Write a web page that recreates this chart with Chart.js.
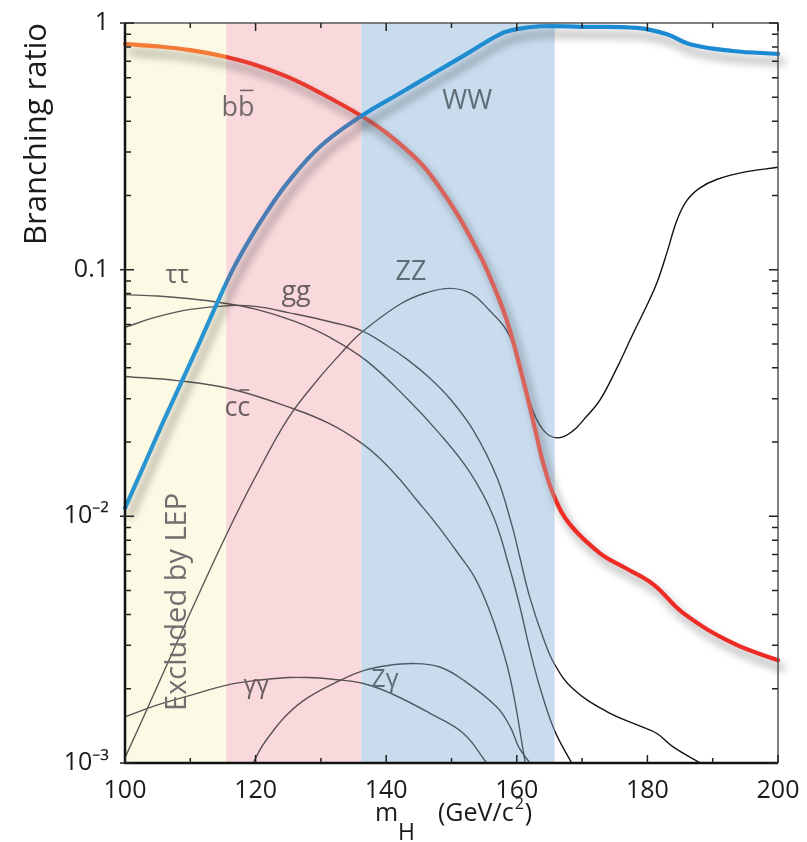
<!DOCTYPE html>
<html>
<head>
<meta charset="utf-8">
<script src="https://cdn.jsdelivr.net/npm/chart.js@4.4.1/dist/chart.umd.min.js"></script>
<style>
html, body { margin: 0; padding: 0; background: #fff; }
</style>
</head>
<body>
<canvas id="myChart" width="807" height="842"></canvas>
<script>
// Higgs branching ratios (m_H in GeV/c2)
var wwMass = [100, 102.3, 105.9, 108.4, 111, 114, 116.5, 119, 121.7, 125, 130, 136.2, 142.1, 147.2, 152.4, 157.4, 160, 163.6, 170, 178.4, 183, 186.5, 193, 200]
var wwBR = [0.0108, 0.0148, 0.0243, 0.0339, 0.0479, 0.0721, 0.1, 0.1315, 0.171, 0.227, 0.318, 0.42, 0.519, 0.624, 0.751, 0.9, 0.944, 0.97, 0.965, 0.955, 0.9, 0.82, 0.77, 0.75]

var bbMass = [100, 105, 110, 115, 120, 125, 130, 136.2, 140, 145, 148, 151, 153.5, 155.4, 158.4, 161, 163, 164.1, 165.8, 168.1, 172.7, 176.5, 180.9, 185.5, 193.1, 200]
var bbBR = [0.822, 0.804, 0.776, 0.733, 0.676, 0.603, 0.519, 0.42, 0.359, 0.275, 0.219, 0.166, 0.126, 0.1, 0.063, 0.0355, 0.0214, 0.0162, 0.0119, 0.0093, 0.0071, 0.0062, 0.0053, 0.00405, 0.00306, 0.00261]

var tautauMass = [100, 105, 110, 114.5, 120, 126, 131.4, 137, 143.1, 148, 152.8, 156.4, 159, 160.5, 162, 163.6, 165.8, 168.4]
var tautauBR = [0.0792, 0.0782, 0.0762, 0.0736, 0.0692, 0.0617, 0.0531, 0.0427, 0.0302, 0.0219, 0.0151, 0.01, 0.00603, 0.00427, 0.00288, 0.002, 0.00135, 0.001]

var gluMass = [100, 105, 110, 116, 120, 125, 131.4, 136.2, 140, 143.5, 146.7, 149.8, 153.3, 156.9, 159.2, 160.5, 162, 164, 165.8, 168.6, 173.7, 178.9, 181.4, 184, 188.1]
var gluBR = [0.0584, 0.0645, 0.069, 0.0715, 0.071, 0.067, 0.0615, 0.0566, 0.0495, 0.0427, 0.0363, 0.0299, 0.0224, 0.0145, 0.0093, 0.00676, 0.00468, 0.00324, 0.00251, 0.002, 0.00162, 0.00141, 0.00132, 0.00116, 0.001]

var ccMass = [100, 108, 116.1, 125.8, 131.4, 136, 139, 142.1, 144.6, 147.7, 150.8, 153.8, 156.5, 159, 161.3]
var ccBR = [0.0369, 0.0355, 0.0329, 0.0273, 0.0237, 0.02, 0.0172, 0.0141, 0.0117, 0.0093, 0.0072, 0.0055, 0.0037, 0.0022, 0.001]

var zzMass = [100, 103.8, 109.5, 115.6, 120, 125, 129.4, 133.4, 136.2, 142.1, 146, 149.8, 153, 155.9, 158.4, 160, 162, 164.1, 166.2, 168.5, 170.5, 172.7, 175.3, 177.8, 180, 181.5, 183, 184.5, 186, 188, 190.6, 195, 200]
var zzBR = [0.00105, 0.00175, 0.0038, 0.0085, 0.0145, 0.025, 0.0355, 0.0468, 0.0556, 0.0724, 0.0804, 0.084, 0.08, 0.068, 0.057, 0.045, 0.029, 0.0223, 0.0208, 0.0221, 0.0251, 0.0295, 0.0398, 0.055, 0.0724, 0.0891, 0.1175, 0.158, 0.19, 0.214, 0.232, 0.249, 0.26]

var gamgamMass = [100, 105, 110, 115.6, 120, 125, 128, 131.4, 136.5, 141, 146.7, 151.8, 155.4]
var gamgamBR = [0.00154, 0.00172, 0.00188, 0.00207, 0.00216, 0.00222, 0.00222, 0.00219, 0.0021, 0.0019, 0.00159, 0.00132, 0.001]

var zgamMass = [119.6, 121, 122.5, 124.8, 128, 132.9, 136.5, 140, 144.2, 148.2, 151.8, 156.9, 159, 160.3, 162]
var zgamBR = [0.001, 0.00117, 0.00133, 0.00157, 0.00184, 0.00216, 0.00237, 0.00248, 0.00253, 0.00245, 0.00217, 0.00169, 0.0014, 0.00116, 0.001]

// shaded mass ranges
var bandFrom = [100, 115.5, 136.2]
var bandTo = [115.5, 136.2, 165.8]
var bandFill = ['#fcf9e4', '#f9d9dc', '#c9dcee']

var xTicks = [100, 110, 120, 130, 140, 150, 160, 170, 180, 190, 200]
var yMajor = [0.001, 0.01, 0.1, 1]
var yMajorLabels = ['10⁻³', '10⁻²', '0.1', '1']

function pts(xs, ys) {
    return xs.map(function (x, i) { return { x: x, y: ys[i] } })
}

// line colour changes in every shaded range (yellow, pink, blue, white)
function bandColour(cols) {
    return function (context) {
        var chart = context.chart
        var area = chart.chartArea
        if (!area) return cols[3]
        var xs = chart.scales.x
        var g = chart.ctx.createLinearGradient(area.left, 0, area.right, 0)
        var w = area.right - area.left
        var prev = 0
        bandTo.forEach(function (e, i) {
            var p = (xs.getPixelForValue(e) - area.left) / w
            g.addColorStop(prev, cols[i])
            g.addColorStop(p, cols[i])
            prev = p
        })
        g.addColorStop(prev, cols[3])
        g.addColorStop(1, cols[3])
        return g
    }
}

var thinCols = ['#5d5656', '#5a5050', '#4f5a64', '#111111']

function thin(xs, ys) {
    return { data: pts(xs, ys), borderColor: bandColour(thinCols), borderWidth: 1.4 }
}

var bandsPlugin = {
    id: 'bands',
    beforeDatasetsDraw(chart) {
        var c = chart.ctx, a = chart.chartArea, xs = chart.scales.x
        c.save()
        bandFrom.forEach(function (f, i) {
            var x0 = xs.getPixelForValue(f), x1 = xs.getPixelForValue(bandTo[i])
            c.fillStyle = bandFill[i]
            c.fillRect(x0, a.top, x1 - x0, a.bottom - a.top)
        })
        c.restore()
    }
}

var shadowPlugin = {
    id: 'shadow',
    beforeDatasetDraw(chart, args) {
        if (chart.data.datasets[args.index].shadow) {
            var c = chart.ctx
            c.save()
            c.shadowColor = 'rgba(0,0,0,0.42)'
            c.shadowBlur = 8
            c.shadowOffsetX = 5
            c.shadowOffsetY = 8
        }
    },
    afterDatasetDraw(chart, args) {
        if (chart.data.datasets[args.index].shadow) chart.ctx.restore()
    }
}

function label(c, xs, ys, text, mx, v, col, size) {
    c.font = (size || 26) + 'px "Open Sans"'
    c.fillStyle = col
    c.textAlign = 'center'
    c.textBaseline = 'middle'
    c.fillText(text, xs.getPixelForValue(mx), ys.getPixelForValue(v))
}

// bar over the second letter of a two letter label
function bar(c, xs, ys, text, mx, v, col, size) {
    c.font = (size || 26) + 'px "Open Sans"'
    var w = c.measureText(text).width
    var w1 = c.measureText(text[0]).width
    var x = xs.getPixelForValue(mx) - w / 2 + w1
    var y = ys.getPixelForValue(v) - size * 0.68
    c.strokeStyle = col
    c.lineWidth = 1.6
    c.beginPath()
    c.moveTo(x + 2, y)
    c.lineTo(x + w - w1 - 1, y)
    c.stroke()
}

var framePlugin = {
    id: 'frame',
    afterDatasetsDraw(chart) {
        var c = chart.ctx, a = chart.chartArea, xs = chart.scales.x, ys = chart.scales.y
        c.save()

        // channel names
        label(c, xs, ys, 'bb', 117.3, 0.449, '#756a6a', 27)
        bar(c, xs, ys, 'bb', 117.3, 0.449, '#756a6a', 27)
        label(c, xs, ys, 'WW', 152.4, 0.483, '#5f6b75', 27)
        label(c, xs, ys, 'ττ', 108, 0.0946, '#6a6060', 25)
        label(c, xs, ys, 'gg', 126.2, 0.0807, '#6a6060', 27)
        label(c, xs, ys, 'cc', 117.2, 0.0274, '#6a6060', 27)
        bar(c, xs, ys, 'cc', 117.2, 0.0274, '#6a6060', 27)
        label(c, xs, ys, 'ZZ', 143.8, 0.0973, '#5f6b75', 27)
        label(c, xs, ys, 'γγ', 120.1, 0.00205, '#6a6060', 25)
        label(c, xs, ys, 'Zγ', 139.8, 0.00217, '#5f6b75', 25)

        c.save()
        c.translate(xs.getPixelForValue(108), ys.getPixelForValue(0.0045))
        c.rotate(-Math.PI / 2)
        c.font = '29px "Open Sans"'
        c.fillStyle = '#707070'
        c.textAlign = 'center'
        c.textBaseline = 'middle'
        c.fillText('Excluded by LEP', 0, 0)
        c.restore()

        // frame
        c.lineCap = 'butt'
        c.strokeStyle = '#555'
        c.lineWidth = 1.5
        c.beginPath()
        c.moveTo(a.left, a.top); c.lineTo(a.right, a.top); c.lineTo(a.right, a.bottom)
        c.stroke()
        c.strokeStyle = '#111'
        c.lineWidth = 2.5
        c.beginPath()
        c.moveTo(a.left, a.top); c.lineTo(a.left, a.bottom); c.lineTo(a.right, a.bottom)
        c.stroke()

        // inward ticks
        c.lineWidth = 1.5
        c.strokeStyle = '#222'
        c.beginPath()
        xTicks.forEach(function (t) {
            var px = xs.getPixelForValue(t)
            var len = t % 20 === 0 ? 8 : 5
            c.moveTo(px, a.bottom); c.lineTo(px, a.bottom - len)
            c.moveTo(px, a.top); c.lineTo(px, a.top + len)
        })
        yMajor.forEach(function (d, j) {
            for (var k = 1; k < 10; k++) {
                var v = d * k
                if (v > 1.0001 || (k > 1 && j === yMajor.length - 1)) break
                var py = ys.getPixelForValue(v)
                if (k === 1) {
                    c.moveTo(a.left - 5, py); c.lineTo(a.left + 9, py)
                    c.moveTo(a.right - 9, py); c.lineTo(a.right, py)
                } else {
                    c.moveTo(a.left, py); c.lineTo(a.left + 6, py)
                    c.moveTo(a.right - 6, py); c.lineTo(a.right, py)
                }
            }
        })
        c.stroke()

        // x axis title with subscript and superscript
        c.fillStyle = '#1a1a1a'
        c.textAlign = 'left'
        c.textBaseline = 'alphabetic'
        c.font = '25px "Open Sans"'
        c.fillText('m', 375, 821)
        c.font = '23px "Open Sans"'
        c.fillText('H', 398, 840)
        c.font = '25px "Open Sans"'
        c.fillText('(GeV/c', 438, 821)
        var w = c.measureText('(GeV/c').width
        c.font = '16px "Open Sans"'
        c.fillText('2', 438 + w + 1, 809)
        var w2 = c.measureText('2').width
        c.font = '25px "Open Sans"'
        c.fillText(')', 438 + w + w2 + 2, 821)
        c.restore()
    }
}

var ctx = document.getElementById('myChart').getContext('2d')
var myChart = new Chart(ctx, {
    type: 'line',
    data: {
        datasets: [
            { data: pts(wwMass, wwBR), borderColor: bandColour(['#2894d0', '#4a7db4', '#1f8bd0', '#1a8ad2']), borderWidth: 4.2, shadow: true, clip: false },
            { data: pts(bbMass, bbBR), borderColor: bandColour(['#f47a38', '#e8392e', '#d9625b', '#ee2b24']), borderWidth: 4.2, shadow: true, clip: false },
            thin(zzMass, zzBR),
            thin(tautauMass, tautauBR),
            thin(gluMass, gluBR),
            thin(ccMass, ccBR),
            thin(gamgamMass, gamgamBR),
            thin(zgamMass, zgamBR)
        ]
    },
    options: {
        responsive: false,
        animation: false,
        layout: { padding: { top: 22, right: 29, left: 0, bottom: 0 } },
        elements: {
            point: { radius: 0 },
            line: { tension: 0.4, borderCapStyle: 'round', borderJoinStyle: 'round' }
        },
        plugins: { legend: { display: false }, tooltip: { enabled: false } },
        scales: {
            x: {
                type: 'linear', min: 100, max: 200,
                afterBuildTicks: function (s) { s.ticks = xTicks.map(function (v) { return { value: v } }) },
                afterFit: function (s) { s.height = 79 },
                grid: { display: false },
                border: { display: false },
                ticks: {
                    autoSkip: false, maxRotation: 0, padding: 5, color: '#1a1a1a',
                    font: { family: 'Open Sans', size: 25 },
                    callback: function (v) { return v % 20 === 0 ? String(v) : '' }
                }
            },
            y: {
                type: 'logarithmic', min: 0.001, max: 1,
                afterBuildTicks: function (s) { s.ticks = yMajor.map(function (v) { return { value: v, major: true } }) },
                afterFit: function (s) { s.width = 125 },
                grid: { display: false },
                border: { display: false },
                ticks: {
                    autoSkip: false, padding: 8, color: '#1a1a1a',
                    font: { family: 'Open Sans', size: 25 },
                    callback: function (v, i) { return yMajorLabels[i] }
                },
                title: {
                    display: true, text: 'Branching ratio', align: 'end', color: '#1a1a1a',
                    font: { family: 'Open Sans', size: 31 }, padding: { top: 19, bottom: 0 }
                }
            }
        }
    },
    plugins: [bandsPlugin, shadowPlugin, framePlugin]
});
</script>
</body>
</html>
